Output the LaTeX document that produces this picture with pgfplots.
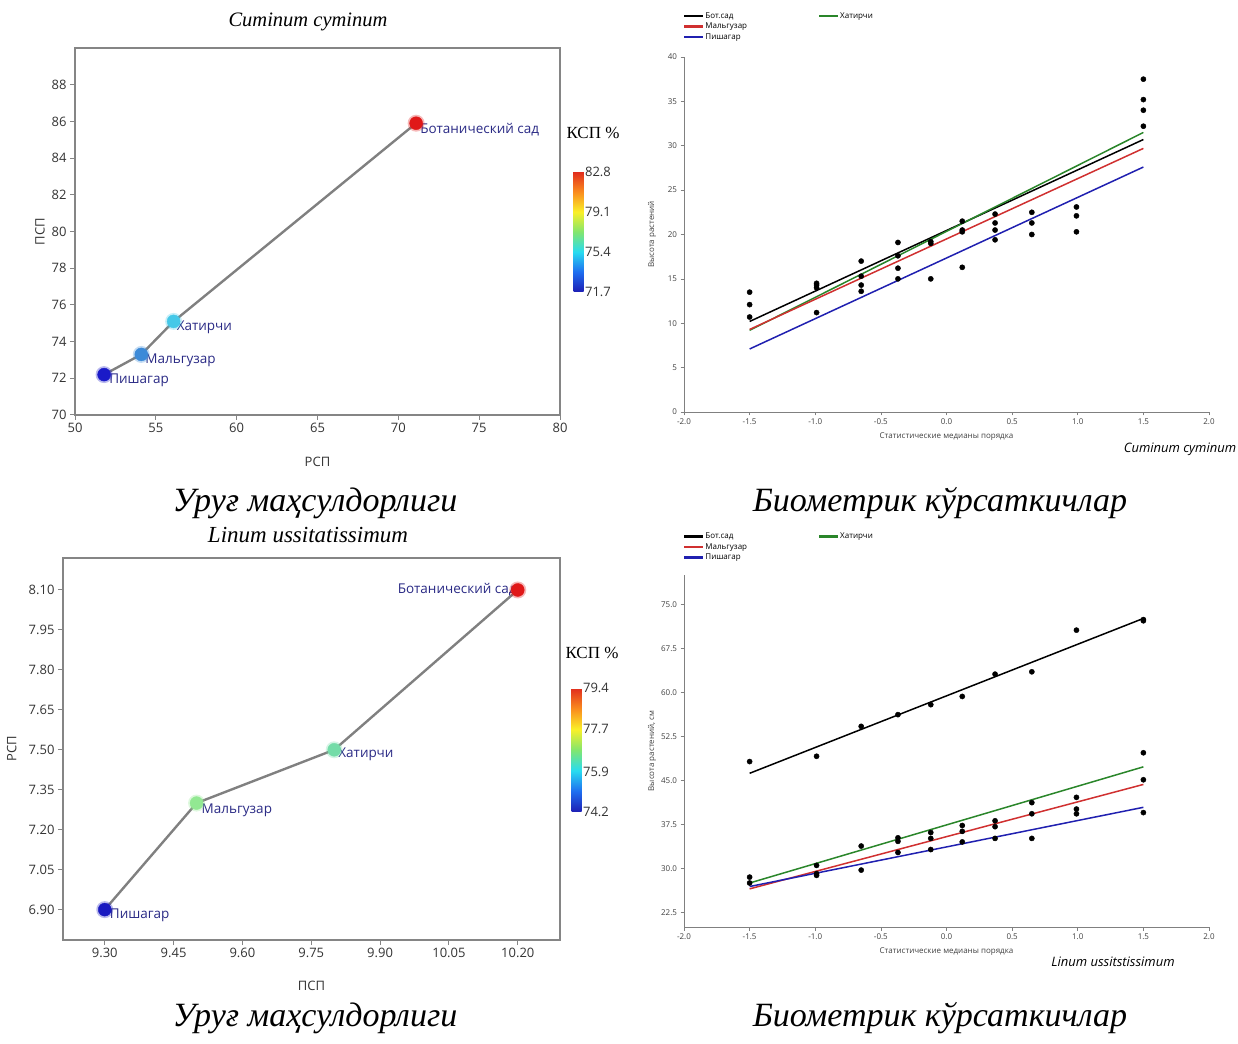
\documentclass[border=0pt]{standalone}
\usepackage{fontspec}
\setmainfont{Liberation Serif}
\newfontfamily\osans{Open Sans}
\usepackage{pgfplots}
\pgfplotsset{compat=1.18}
\newcommand\fs[1]{\fontsize{#1}{#1}\selectfont}
\definecolor{framegray}{HTML}{858585}
\definecolor{linegray}{HTML}{808080}
\definecolor{labblue}{HTML}{2A2A85}
\definecolor{aPish}{HTML}{1A1AC8}
\definecolor{aMalg}{HTML}{3C8AD8}
\definecolor{aHat}{HTML}{45C8E8}
\definecolor{aBot}{HTML}{E01818}
\definecolor{cPish}{HTML}{1A1AC0}
\definecolor{cMalg}{HTML}{92E892}
\definecolor{cHat}{HTML}{74DCA8}
\definecolor{qblack}{HTML}{000000}
\definecolor{qred}{HTML}{D03030}
\definecolor{qblue}{HTML}{2020B0}
\definecolor{qgreen}{HTML}{2A862A}
\pgfplotsset{
  kspmap/.style={colormap={ksp}{rgb255=(30,30,180) rgb255=(30,110,240) rgb255=(40,220,240) rgb255=(130,230,110) rgb255=(250,240,40) rgb255=(250,140,30) rgb255=(225,45,30)}},
  boxaxis/.style={scale only axis, clip=false,
    axis line style={draw=framegray, line width=1.6pt},
    tick align=outside, major tick length=5pt,
    major tick style={draw=framegray, line width=1pt},
    xtick pos=bottom, ytick pos=left,
    ticklabel style={font=\osans\fs{13}, text=black!80},
    label style={font=\osans\fs{13}, text=black!80},
    /pgf/number format/assume math mode=true},
  cbar/.style={colorbar, kspmap,
    colorbar style={scale only axis, width=10pt,
      axis line style={draw=none}, major tick length=0pt,
      ytick style={draw=none}, yticklabel pos=right,
      yticklabel style={font=\osans\fs{13}, text=black!80, xshift=-2pt},
      /pgf/number format/fixed, /pgf/number format/precision=1,
      /pgf/number format/fixed zerofill,
      /pgf/number format/assume math mode=true}},
  halo/.style={only marks, mark=*, mark size=8.5pt, color=#1, mark options={fill=#1, fill opacity=0.3, draw opacity=0}},
  dot/.style={only marks, mark=*, mark size=6.5pt, color=#1, mark options={fill=#1, draw=#1}},
  qqaxis/.style={scale only axis, clip=false, axis lines=left,
    axis line style={-, draw=black!50, line width=0.8pt},
    tick align=outside, major tick length=3.5pt,
    major tick style={draw=black!50, line width=0.6pt},
    ticklabel style={font=\osans\fs{8}, text=black!75},
    label style={font=\osans\fs{8}, text=black!75},
    xmin=-2, xmax=2, xtick={-2,-1.5,...,2},
    /pgf/number format/fixed, /pgf/number format/precision=1,
    /pgf/number format/fixed zerofill,
    /pgf/number format/assume math mode=true,
    xlabel={Статистические медианы порядка},
    xlabel style={at={(axis description cs:0.5,-0.07)}, anchor=center},
    ylabel style={at={(axis description cs:-0.061,0.5)}, anchor=center},
    legend columns=2,
    legend image code/.code={\draw[##1, line width=2.5pt] (0pt,0pt) -- (19pt,0pt);},
    legend style={draw=none, fill=none, font=\osans\fs{8}, inner sep=0pt,
      row sep=1.6pt, nodes={inner sep=0.8pt}, cells={anchor=west},
      /tikz/column 2/.style={column sep=70pt}}},
  qqline/.style={line width=1.5pt, no markers},
  qqdot/.style={only marks, mark=*, mark size=2.6pt, black, forget plot}
}
\begin{document}
\begin{tikzpicture}[x=1pt,y=1pt]
\path[use as bounding box] (0pt,0pt) rectangle (1238pt,1043pt);

% ---------------- Panel A ----------------
\begin{axis}[boxaxis, cbar, at={(75pt,628pt)}, anchor=south west,
  width=485pt, height=367pt,
  xmin=50, xmax=80, ymin=70, ymax=90,
  xtick={50,55,...,80}, ytick={70,72,...,88},
  xlabel={РСП}, ylabel={ПСП},
  xlabel style={at={(axis description cs:0.5,-0.128)}, anchor=center},
  ylabel style={at={(axis description cs:-0.072,0.5)}, anchor=center},
  point meta min=71.7, point meta max=82.8,
  colorbar style={at={(parent axis.south east)}, anchor=south west,
    xshift=5pt, yshift=123pt, height=120pt,
    ytick={71.7,75.4,79.1,82.8}}]
\addplot[linegray, line width=2.4pt, no markers] coordinates {(51.8,72.2) (54.1,73.3) (56.1,75.1) (71.1,85.9)};
\addplot[halo=aPish] coordinates {(51.8,72.2)};
\addplot[dot=aPish] coordinates {(51.8,72.2)};
\addplot[halo=aMalg] coordinates {(54.1,73.3)};
\addplot[dot=aMalg] coordinates {(54.1,73.3)};
\addplot[halo=aHat] coordinates {(56.1,75.1)};
\addplot[dot=aHat] coordinates {(56.1,75.1)};
\addplot[halo=aBot] coordinates {(71.1,85.9)};
\addplot[dot=aBot] coordinates {(71.1,85.9)};
\node[anchor=west, font=\osans\fs{13.5}, text=labblue, inner sep=0pt, xshift=4pt, yshift=-6pt] at (axis cs:71.1,85.9) {Ботанический сад};
\node[anchor=west, font=\osans\fs{13.5}, text=labblue, inner sep=0pt, xshift=3pt, yshift=-6pt] at (axis cs:56.1,75.1) {Хатирчи};
\node[anchor=west, font=\osans\fs{13.5}, text=labblue, inner sep=0pt, xshift=4pt, yshift=-6pt] at (axis cs:54.1,73.3) {Мальгузар};
\node[anchor=west, font=\osans\fs{13.5}, text=labblue, inner sep=0pt, xshift=5pt, yshift=-6pt] at (axis cs:51.8,72.2) {Пишагар};
\end{axis}

% ---------------- Panel B ----------------
\begin{axis}[qqaxis, at={(684pt,631pt)}, anchor=south west,
  width=525pt, height=355pt,
  ymin=0, ymax=40, ytick={0,5,...,40},
  yticklabel style={/pgf/number format/precision=0},
  ylabel={Высота растений},
  legend style={at={(-0.002,1.128)}, anchor=north west}]
\addplot[qqline, qblack] coordinates {(-1.5,10.2) (1.5,30.7)};
\addlegendentry{Бот.сад}
\addplot[qqline, qgreen] coordinates {(-1.5,9.2) (1.5,31.5)};
\addlegendentry{Хатирчи}
\addplot[qqline, qred] coordinates {(-1.5,9.3) (1.5,29.7)};
\addlegendentry{Мальгузар}
\addlegendimage{empty legend}
\addlegendentry{}
\addplot[qqline, qblue] coordinates {(-1.5,7.1) (1.5,27.6)};
\addlegendentry{Пишагар}
\addplot[qqdot] coordinates {
 (-1.5,13.5) (-1.5,12.1) (-1.5,10.7)
 (-0.99,14.5) (-0.99,14.3) (-0.99,14.0) (-0.99,11.2)
 (-0.65,17.0) (-0.65,15.3) (-0.65,14.3) (-0.65,13.6)
 (-0.37,19.1) (-0.37,17.6) (-0.37,16.2) (-0.37,15.0)
 (-0.12,19.2) (-0.12,19.0) (-0.12,15.0)
 (0.12,21.5) (0.12,20.5) (0.12,20.3) (0.12,16.3)
 (0.37,22.3) (0.37,21.3) (0.37,20.5) (0.37,19.4)
 (0.65,22.5) (0.65,21.3) (0.65,20.0)
 (0.99,23.1) (0.99,22.1) (0.99,20.3)
 (1.5,37.5) (1.5,35.2) (1.5,34.0) (1.5,32.2)};
\end{axis}

% ---------------- Panel C ----------------
\begin{axis}[boxaxis, cbar, at={(63pt,103pt)}, anchor=south west,
  width=497pt, height=382pt,
  xmin=9.209, xmax=10.292, ymin=6.786, ymax=8.22,
  xtick={9.30,9.45,9.60,9.75,9.90,10.05,10.20},
  ytick={6.90,7.05,7.20,7.35,7.50,7.65,7.80,7.95,8.10},
  /pgf/number format/fixed, /pgf/number format/precision=2,
  /pgf/number format/fixed zerofill,
  xlabel={ПСП}, ylabel={РСП},
  xlabel style={at={(axis description cs:0.5,-0.12)}, anchor=center},
  ylabel style={at={(axis description cs:-0.103,0.5)}, anchor=center},
  point meta min=74.2, point meta max=79.4,
  colorbar style={at={(parent axis.south east)}, anchor=south west,
    xshift=3pt, yshift=128pt, height=124pt,
    ytick={74.2,75.9,77.7,79.4}}]
\addplot[linegray, line width=2.4pt, no markers] coordinates {(9.30,6.90) (9.50,7.30) (9.80,7.50) (10.20,8.10)};
\addplot[halo=cPish] coordinates {(9.30,6.90)};
\addplot[dot=cPish] coordinates {(9.30,6.90)};
\addplot[halo=cMalg] coordinates {(9.50,7.30)};
\addplot[dot=cMalg] coordinates {(9.50,7.30)};
\addplot[halo=cHat] coordinates {(9.80,7.50)};
\addplot[dot=cHat] coordinates {(9.80,7.50)};
\addplot[halo=aBot] coordinates {(10.20,8.10)};
\addplot[dot=aBot] coordinates {(10.20,8.10)};
\node[anchor=east, font=\osans\fs{13.5}, text=labblue, inner sep=0pt, xshift=-1pt, yshift=0pt] at (axis cs:10.20,8.10) {Ботанический сад};
\node[anchor=west, font=\osans\fs{13.5}, text=labblue, inner sep=0pt, xshift=4pt, yshift=-5pt] at (axis cs:9.80,7.50) {Хатирчи};
\node[anchor=west, font=\osans\fs{13.5}, text=labblue, inner sep=0pt, xshift=5pt, yshift=-7pt] at (axis cs:9.50,7.30) {Мальгузар};
\node[anchor=west, font=\osans\fs{13.5}, text=labblue, inner sep=0pt, xshift=5pt, yshift=-6pt] at (axis cs:9.30,6.90) {Пишагар};
\end{axis}

% ---------------- Panel D ----------------
\begin{axis}[qqaxis, at={(684pt,116pt)}, anchor=south west,
  width=525pt, height=352pt,
  ymin=20, ymax=80, ytick={22.5,30,37.5,45,52.5,60,67.5,75},
  ylabel={Высота растений, см},
  legend style={at={(-0.002,1.122)}, anchor=north west}]
\addplot[qqline, qblack] coordinates {(-1.5,46.2) (1.5,72.6)};
\addlegendentry{Бот.сад}
\addplot[qqline, qgreen] coordinates {(-1.5,27.5) (1.5,47.3)};
\addlegendentry{Хатирчи}
\addplot[qqline, qred] coordinates {(-1.5,26.5) (1.5,44.3)};
\addlegendentry{Мальгузар}
\addlegendimage{empty legend}
\addlegendentry{}
\addplot[qqline, qblue] coordinates {(-1.5,26.9) (1.5,40.4)};
\addlegendentry{Пишагар}
\addplot[qqdot] coordinates {
 (-1.5,48.2) (-1.5,28.5) (-1.5,27.5)
 (-0.99,49.1) (-0.99,30.5) (-0.99,29.1) (-0.99,28.8)
 (-0.65,54.2) (-0.65,33.8) (-0.65,29.7)
 (-0.37,56.2) (-0.37,35.2) (-0.37,34.6) (-0.37,32.7)
 (-0.12,57.9) (-0.12,36.1) (-0.12,35.1) (-0.12,33.2)
 (0.12,59.3) (0.12,37.3) (0.12,36.3) (0.12,34.5)
 (0.37,63.1) (0.37,38.1) (0.37,37.1) (0.37,35.1)
 (0.65,63.5) (0.65,41.2) (0.65,39.3) (0.65,35.1)
 (0.99,70.6) (0.99,42.1) (0.99,40.1) (0.99,39.3)
 (1.5,72.4) (1.5,72.2) (1.5,49.7) (1.5,45.1) (1.5,39.5)};
\end{axis}

% ---------------- Texts ----------------
\node[font=\itshape\fs{20.5}] at (308pt,1021pt) {Cuminum cyminum};
\node[font=\itshape\fs{23}] at (308pt,508pt) {Linum ussitatissimum};
\node[font=\fs{17}] at (593pt,910pt) {КСП \%};
\node[font=\fs{17}] at (592pt,390pt) {КСП \%};
\node[font=\osans\itshape\fs{13}] at (1180pt,594pt) {Cuminum cyminum};
\node[font=\osans\itshape\fs{13}] at (1113pt,81pt) {Linum ussitstissimum};
\node[font=\itshape\fs{34}] at (315pt,540pt) {Уруғ маҳсулдорлиги};
\node[font=\itshape\fs{34}] at (940pt,540pt) {Биометрик кўрсаткичлар};
\node[font=\itshape\fs{34}] at (315pt,25pt) {Уруғ маҳсулдорлиги};
\node[font=\itshape\fs{34}] at (940pt,25pt) {Биометрик кўрсаткичлар};
\end{tikzpicture}
\end{document}
